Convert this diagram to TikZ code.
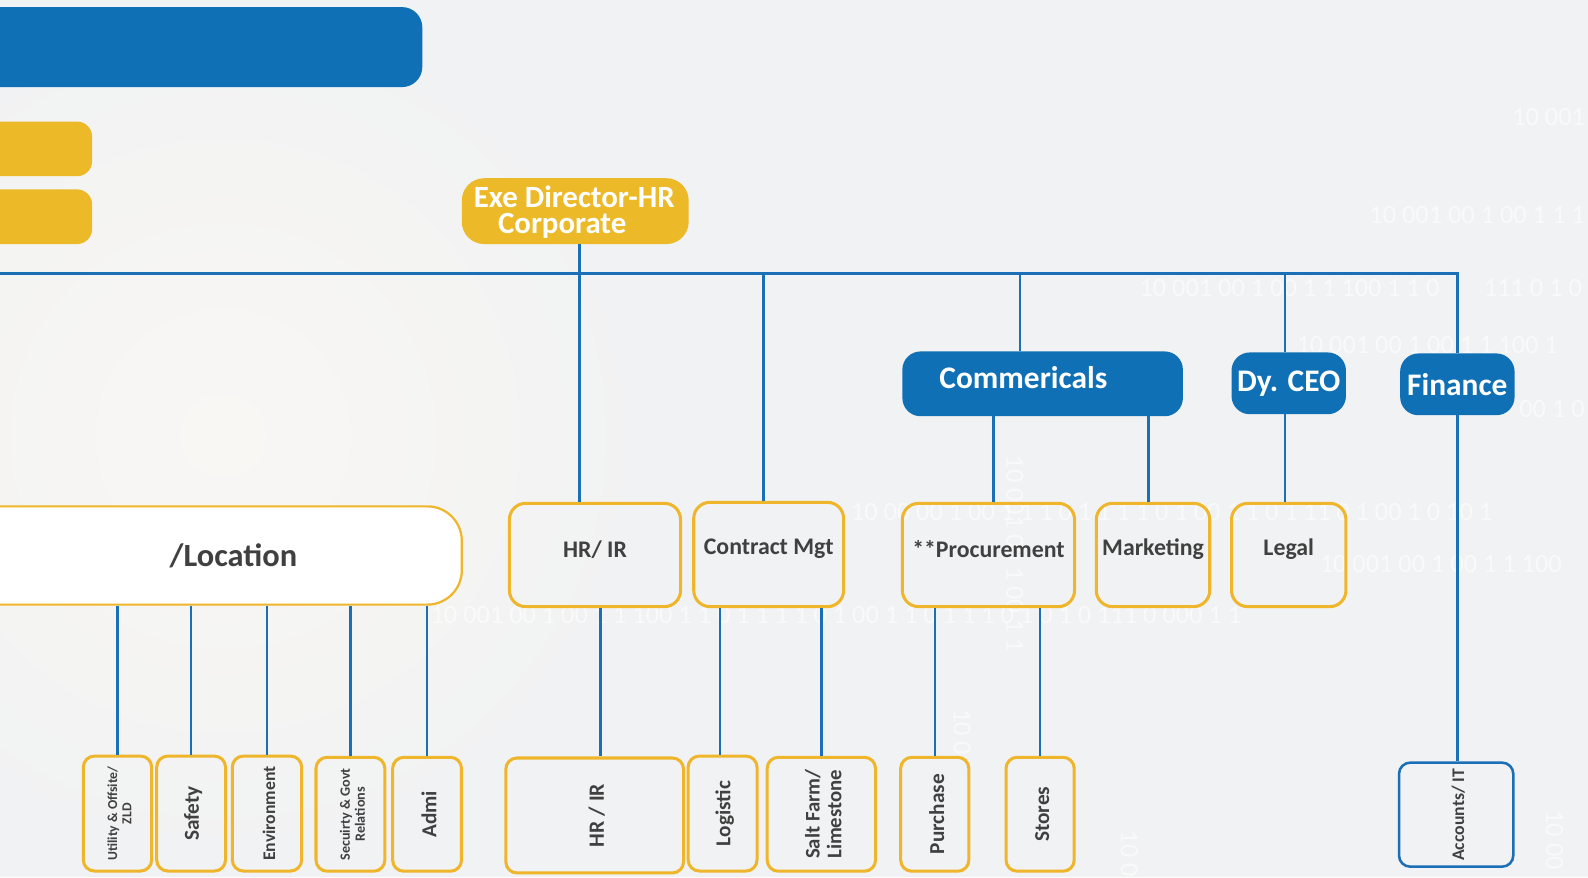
\documentclass[tikz,border=0pt]{standalone}
\usepackage{fontspec}
\setmainfont{Carlito}
\definecolor{bgc}{HTML}{F1F2F3}
\definecolor{glow}{HTML}{F9F7F4}
\definecolor{navy}{HTML}{1070B5}
\definecolor{linec}{HTML}{1A6FB6}
\definecolor{gold}{HTML}{ECB928}
\definecolor{goldline}{HTML}{EFB62C}
\definecolor{ink}{HTML}{404040}
\begin{document}
\begin{tikzpicture}[x=1pt,y=-1pt,
  bar/.style={draw=none, inner sep=0},
  bluebox/.style={fill=navy, draw=none, rounded corners=18pt, inner sep=0},
  bluetxt/.style={text=white, inner sep=0, font=\bfseries\fontsize{31}{31}\selectfont},
  midbox/.style={draw=goldline, line width=3pt, rounded corners=16pt, inner sep=0},
  midtxt/.style={text=ink, inner sep=0, yshift=5.5pt, font=\bfseries\fontsize{23.5}{26}\selectfont},
  lowbox/.style={draw=goldline, line width=3pt, rounded corners=11pt, inner sep=0},
  lowtxt/.style={text=ink, inner sep=0, rotate=90, align=center, yshift=-2pt, font=\bfseries\fontsize{21}{21}\selectfont},
  link/.style={draw=linec, line width=2.5pt},
  bin/.style={text=white, opacity=0.6, inner sep=0, anchor=west, font=\fontsize{26}{26}\selectfont}]
\useasboundingbox (0,0) rectangle (1568,866);
\clip (0,0) rectangle (1568,866);
% backdrop
\fill[bgc] (0,0) rectangle (1568,866);
\shade[inner color=glow, outer color=bgc] (220,430) circle (420);

% faint binary strings in the backdrop
\node[bin] (bn1) at (1493,116) {10 001};
\node[bin] (bn2) at (1352,212) {10 001 00 1 00 1 1 1};
\node[bin] (bn3) at (1125,284) {10 001 00 1 00 1 1 100 1 1 0};
\node[bin] (bn4) at (1465,284) {111 0 1 0};
\node[bin] (bn5) at (1280,341) {10 001 00 1 00 1 1 100 1};
\node[bin] (bn6) at (1500,404) {00 1 0};
\node[bin] (bn7) at (840,506) {10 00 00 1 00 1 1 1 0 1 1 1 1 0 1 00 1 1 0 1 11 0 1 00 1 0 10 1};
\node[bin] (bn8) at (1303,557) {10 001 00 1 00 1 1 100};
\node[bin] (bn9) at (425,607) {10 001 00 1 00 1 1 100 1 1 0 1 1 1 1 0 1 00 1 1 0 1 1 1 0 1 0 1 0 111 0 000 1 1};
\node[bin, rotate=-90] (bn10) at (1002,450) {10 001 00 1 00 1 1};
\node[bin, rotate=-90] (bn11) at (950,700) {10 0};
\node[bin, rotate=-90] (bn12) at (1115,820) {10 0};
\node[bin, rotate=-90] (bn13) at (1535,800) {10 00};

% header bars
\node[bar, fill=navy, rounded corners=20pt, minimum width=447pt, minimum height=79pt] (topbar) at (193.5,46.5) {};
\node[bar, fill=gold, rounded corners=15pt, minimum width=121pt, minimum height=54pt] (ybar1) at (30.5,147) {};
\node[bar, fill=gold, rounded corners=15pt, minimum width=121pt, minimum height=54pt] (ybar2) at (30.5,214) {};

% top level
\node[bar, fill=gold, rounded corners=22pt, minimum width=224pt, minimum height=65pt,
  label={[text=white, inner sep=0, align=left, xshift=-1pt, yshift=-1pt, font=\bfseries\fontsize{30.5}{25.5}\selectfont]center:Exe Director-HR\\\hspace*{24pt}Corporate}] (exe) at (568,208.5) {};

\node[bluebox, minimum width=277pt, minimum height=64pt, label={[bluetxt, xshift=-19pt, yshift=6pt]center:Commericals}] (com) at (1029.5,379) {};
\node[bluebox, minimum width=113pt, minimum height=61pt, label={[bluetxt]center:Dy. CEO}] (ceo) at (1272.5,378.5) {};
\node[bluebox, minimum width=113pt, minimum height=61pt, label={[bluetxt]center:Finance}] (fin) at (1439,379.5) {};

% second level
\node[draw=goldline, fill=white, line width=2.2pt, rounded corners=34pt, inner sep=0,
  minimum width=496pt, minimum height=97pt,
  label={[text=ink, inner sep=0, xshift=22.5pt, font=\bfseries\fontsize{32}{32}\selectfont]center:/Location}] (loc) at (208,548.5) {};
\node[midbox, minimum width=169pt, minimum height=102pt, label={[midtxt]center:HR/ IR}] (hrir) at (587.5,548) {};
\node[midbox, minimum width=148pt, minimum height=103pt, label={[midtxt]center:Contract Mgt}] (cm) at (759,547.5) {};
\node[midbox, minimum width=170pt, minimum height=102pt, label={[midtxt]center:**Procurement}] (proc) at (976,548) {};
\node[midbox, minimum width=112pt, minimum height=102pt, label={[midtxt]center:Marketing}] (mkt) at (1138.5,548) {};
\node[midbox, minimum width=113pt, minimum height=102pt, label={[midtxt]center:Legal}] (legal) at (1272.5,548) {};

% third level
\node[lowbox, minimum width=67.5pt, minimum height=113.5pt,
  label={[lowtxt, font=\bfseries\fontsize{13.5}{14}\selectfont]center:Utility \& Offsite/\\ZLD}] (util) at (116,803.3) {};
\node[lowbox, minimum width=68pt, minimum height=113.5pt, label={[lowtxt]center:Safety}] (safety) at (188.7,803.3) {};
\node[lowbox, minimum width=68.5pt, minimum height=113.5pt,
  label={[lowtxt, font=\bfseries\fontsize{17.5}{18}\selectfont]center:Environment}] (env) at (263.6,803.3) {};
\node[lowbox, minimum width=68pt, minimum height=112.5pt,
  label={[lowtxt, font=\bfseries\fontsize{14}{15}\selectfont]center:Secuirty \& Govt\\Relations}] (sec) at (346,804) {};
\node[lowbox, minimum width=68pt, minimum height=112.5pt, label={[lowtxt]center:Admi}] (admi) at (421.7,804) {};
\node[lowbox, minimum width=175.5pt, minimum height=113.5pt, label={[lowtxt, font=\bfseries\fontsize{21.5}{22}\selectfont]center:HR / IR}] (hr2) at (587.2,805.2) {};
\node[lowbox, minimum width=68pt, minimum height=113.5pt, label={[lowtxt]center:Logistic}] (logi) at (713.5,803.3) {};
\node[lowbox, minimum width=107pt, minimum height=112.5pt,
  label={[lowtxt, font=\bfseries\fontsize{20.5}{21.5}\selectfont]center:Salt Farm/\\Limestone}] (salt) at (811,804) {};
\node[lowbox, minimum width=67.3pt, minimum height=112.5pt, label={[lowtxt]center:Purchase}] (purch) at (923,804) {};
\node[lowbox, minimum width=67.3pt, minimum height=112.5pt, label={[lowtxt]center:Stores}] (stores) at (1027,804) {};
\node[lowbox, draw=linec, line width=2.5pt, minimum width=112.8pt, minimum height=102.7pt,
  label={[lowtxt, yshift=0pt, font=\bfseries\fontsize{17.5}{18}\selectfont]center:Accounts/ IT}] (acc) at (1437.8,804.4) {};

% connectors
\coordinate (busL) at (-5,270);
\coordinate (busR) at (1439,270);
\coordinate (tHR) at (572,270);
\coordinate (tCM) at (754,270);
\coordinate (tCO) at (1007,270);
\coordinate (tDY) at (1269,270);
\coordinate (xPR) at (981,0);
\coordinate (xMK) at (1134,0);
\coordinate (xHR) at (593,0);
\coordinate (xLG) at (711,0);
\draw[link] (busL) -- (busR) -- (fin.north -| busR);
\draw[link] (exe.south -| tHR) -- (hrir.north -| tHR);
\draw[link] (tCM) -- (cm.north -| tCM);
\draw[link] (tCO) -- (com.north -| tCO);
\draw[link] (tDY) -- (ceo.north -| tDY);
\draw[link] (com.south -| xPR) -- (proc.north -| xPR);
\draw[link] (com.south -| xMK) -- (mkt.north -| xMK);
\draw[link] (ceo.south -| tDY) -- (legal.north -| tDY);
\draw[link] (fin.south) -- (acc.north -| fin.south);
\foreach \b in {util,safety,env,sec,admi}
  \draw[link] (loc.south -| \b.north) -- (\b.north);
\draw[link] (hrir.south -| xHR) -- (hr2.north -| xHR);
\draw[link] (cm.south -| xLG) -- (logi.north -| xLG);
\draw[link] (cm.south -| salt.north) -- (salt.north);
\draw[link] (proc.south -| purch.north) -- (purch.north);
\draw[link] (proc.south -| stores.north) -- (stores.north);
\end{tikzpicture}
\end{document}
